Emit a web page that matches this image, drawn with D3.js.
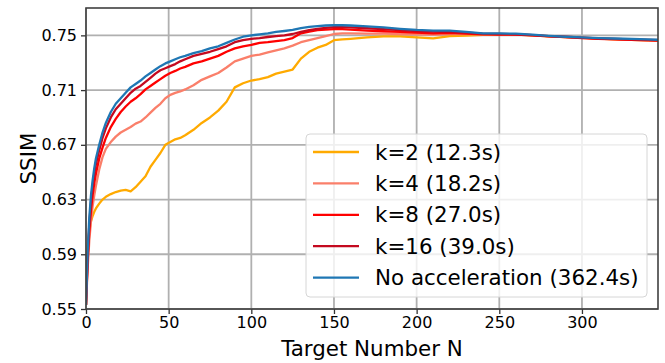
<!DOCTYPE html>
<html>
<head>
<meta charset="utf-8">
<script src="https://cdn.jsdelivr.net/npm/d3@7"></script>
<style>
  body { margin: 0; background: #fff; }
  text { font-family: "DejaVu Sans", sans-serif; fill: #000; }
</style>
</head>
<body>
<div id="chart"></div>
<script>
// sampled target numbers (x) shared by all series
const targetN = [0, 1, 2, 3, 4, 5, 6, 8, 10, 12, 15, 18, 21, 24, 27, 30, 33, 36, 39, 42, 45, 48, 51, 54, 57, 60,
  65, 70, 75, 80, 85, 90, 95, 100, 105, 110, 115, 120, 125, 130, 135, 140, 145, 150, 155, 160, 170, 180, 190, 200,
  210, 220, 230, 240, 250, 260, 270, 280, 290, 300, 310, 320, 330, 340, 346];

const ssimK2 = [0.553, 0.596, 0.607, 0.614, 0.618, 0.621, 0.6235, 0.627, 0.630, 0.632, 0.634, 0.6355, 0.6365, 0.637, 0.636, 0.639,
  0.643, 0.647, 0.654, 0.659, 0.664, 0.670, 0.672, 0.674, 0.675, 0.677, 0.681, 0.686, 0.690, 0.695, 0.7015, 0.712, 0.715, 0.717,
  0.718, 0.7195, 0.722, 0.7235, 0.725, 0.733, 0.738, 0.741, 0.743, 0.7465, 0.747, 0.7475, 0.7485, 0.7493, 0.7492, 0.7485,
  0.7478, 0.7494, 0.7498, 0.7503, 0.7505, 0.7505, 0.750, 0.7493, 0.7487, 0.7481, 0.7476, 0.7471, 0.7467, 0.7464, 0.7462];

const ssimK4 = [0.553, 0.580, 0.600, 0.614, 0.625, 0.633, 0.640, 0.652, 0.661, 0.667, 0.672, 0.676, 0.679, 0.681, 0.683, 0.6855,
  0.687, 0.690, 0.6935, 0.697, 0.700, 0.704, 0.7065, 0.708, 0.709, 0.7105, 0.7135, 0.7175, 0.720, 0.7225, 0.7265, 0.731, 0.733, 0.735,
  0.736, 0.7375, 0.739, 0.7405, 0.7425, 0.745, 0.7465, 0.748, 0.7495, 0.751, 0.7515, 0.7515, 0.7513, 0.7512, 0.751, 0.7508,
  0.7505, 0.751, 0.751, 0.7508, 0.7508, 0.7506, 0.7502, 0.7495, 0.7488, 0.7483, 0.7477, 0.7472, 0.7468, 0.7465, 0.7463];

const ssimK8 = [0.553, 0.585, 0.607, 0.622, 0.633, 0.642, 0.649, 0.660, 0.668, 0.675, 0.683, 0.689, 0.694, 0.698, 0.7015, 0.704,
  0.707, 0.7105, 0.713, 0.7155, 0.718, 0.7205, 0.7225, 0.724, 0.7258, 0.727, 0.7295, 0.731, 0.733, 0.735, 0.738, 0.7405, 0.742, 0.743,
  0.7445, 0.745, 0.7458, 0.7465, 0.748, 0.7515, 0.7528, 0.7538, 0.7542, 0.7545, 0.7545, 0.7542, 0.7535, 0.753, 0.7525, 0.752,
  0.7515, 0.7518, 0.7512, 0.7508, 0.7505, 0.7505, 0.750, 0.7492, 0.7487, 0.748, 0.7475, 0.747, 0.7467, 0.7464, 0.7462];

const ssimK16 = [0.553, 0.588, 0.612, 0.628, 0.640, 0.649, 0.656, 0.666, 0.675, 0.682, 0.690, 0.696, 0.700, 0.704, 0.708, 0.711,
  0.713, 0.716, 0.719, 0.722, 0.7245, 0.726, 0.7275, 0.729, 0.731, 0.7325, 0.735, 0.7365, 0.738, 0.740, 0.742, 0.745, 0.7465, 0.7475,
  0.748, 0.7488, 0.7495, 0.750, 0.751, 0.7525, 0.7538, 0.7548, 0.7555, 0.756, 0.756, 0.7558, 0.7552, 0.7545, 0.7538, 0.7532,
  0.7528, 0.7525, 0.752, 0.7512, 0.751, 0.7508, 0.7502, 0.7495, 0.749, 0.7484, 0.7478, 0.7474, 0.747, 0.7467, 0.7465];

const ssimNoAcc = [0.553, 0.592, 0.617, 0.633, 0.644, 0.653, 0.660, 0.670, 0.679, 0.686, 0.694, 0.700, 0.704, 0.708, 0.712, 0.7145,
  0.717, 0.720, 0.7225, 0.725, 0.7275, 0.7295, 0.731, 0.7325, 0.734, 0.735, 0.737, 0.7385, 0.7405, 0.742, 0.7445, 0.747, 0.749, 0.750,
  0.7508, 0.7515, 0.7525, 0.7532, 0.754, 0.7553, 0.7562, 0.7568, 0.7572, 0.7574, 0.7574, 0.7572, 0.7565, 0.7558, 0.7548, 0.754,
  0.7535, 0.7535, 0.7525, 0.7515, 0.7515, 0.7512, 0.7505, 0.7497, 0.749, 0.7485, 0.748, 0.7477, 0.7474, 0.7471, 0.7468];

const seriesNames = ["k=2 (12.3s)", "k=4 (18.2s)", "k=8 (27.0s)", "k=16 (39.0s)", "No acceleration (362.4s)"];
const seriesValues = [ssimK2, ssimK4, ssimK8, ssimK16, ssimNoAcc];
const seriesColors = ["#ffaa00", "#fa7f6a", "#ff0000", "#c4091f", "#1f77b4"];

const xTicks = [0, 50, 100, 150, 200, 250, 300];
const yTicks = [0.55, 0.59, 0.63, 0.67, 0.71, 0.75];

const W = 665, H = 363;
const margin = { top: 8, right: 7, bottom: 54, left: 86 };
const width = W - margin.left - margin.right;
const height = H - margin.top - margin.bottom;

const svg = d3.select("#chart").append("svg")
    .attr("width", W)
    .attr("height", H);

const g = svg.append("g")
    .attr("transform", "translate(" + margin.left + "," + margin.top + ")");

const x = d3.scaleLinear().domain([0, 346]).range([0, width]);
const y = d3.scaleLinear().domain([0.55, 0.77]).range([height, 0]);

// grid
g.append("g").selectAll("line")
    .data(xTicks).enter().append("line")
    .attr("x1", d => x(d)).attr("x2", d => x(d))
    .attr("y1", 0).attr("y2", height)
    .attr("stroke", "#b0b0b0").attr("stroke-width", 1.8);
g.append("g").selectAll("line")
    .data(yTicks).enter().append("line")
    .attr("x1", 0).attr("x2", width)
    .attr("y1", d => y(d)).attr("y2", d => y(d))
    .attr("stroke", "#b0b0b0").attr("stroke-width", 1.8);

svg.append("defs").append("clipPath").attr("id", "plot-clip")
    .append("rect").attr("width", width).attr("height", height);

const line = d3.line()
    .x((d, i) => x(targetN[i]))
    .y(d => y(d));

g.append("g").attr("clip-path", "url(#plot-clip)")
    .selectAll("path")
    .data(seriesValues).enter().append("path")
    .attr("d", d => line(d))
    .attr("fill", "none")
    .attr("stroke", (d, i) => seriesColors[i])
    .attr("stroke-width", 2.3)
    .attr("stroke-linejoin", "round");

// axes
const xAxis = d3.axisBottom(x).tickValues(xTicks).tickSize(5).tickPadding(3);
const yAxis = d3.axisLeft(y).tickValues(yTicks).tickSize(5).tickPadding(4).tickFormat(d3.format(".2f"));

const gx = g.append("g").attr("transform", "translate(0," + height + ")").call(xAxis);
const gy = g.append("g").call(yAxis);
[gx, gy].forEach(a => {
    a.select(".domain").remove();
    a.selectAll(".tick line").attr("stroke", "#333").attr("stroke-width", 1.3);
    a.selectAll(".tick text").style("font-size", "16px").style("font-family", "DejaVu Sans");
});

// frame
g.append("rect")
    .attr("width", width).attr("height", height)
    .attr("fill", "none").attr("stroke", "#404040").attr("stroke-width", 1.6);

// axis labels
svg.append("text")
    .attr("x", margin.left + width / 2).attr("y", 356)
    .attr("text-anchor", "middle")
    .style("font-size", "21.4px")
    .text("Target Number N");
svg.append("text")
    .attr("transform", "translate(36," + (margin.top + height / 2) + ") rotate(-90)")
    .attr("text-anchor", "middle")
    .style("font-size", "21.4px")
    .text("SSIM");

// legend
const legend = svg.append("g").attr("transform", "translate(306,134)");
legend.append("rect")
    .attr("width", 341).attr("height", 163)
    .attr("rx", 4)
    .attr("fill", "#fff").attr("fill-opacity", 0.8)
    .attr("stroke", "#d6d6d6").attr("stroke-width", 1);

const item = legend.selectAll(".item")
    .data(seriesNames).enter().append("g")
    .attr("transform", (d, i) => "translate(0," + (18 + i * 31.4) + ")");
item.append("line")
    .attr("x1", 7).attr("x2", 53)
    .attr("stroke", (d, i) => seriesColors[i])
    .attr("stroke-width", 2.3);
item.append("text")
    .attr("x", 69).attr("y", 7.5)
    .style("font-size", "21.4px")
    .text(d => d);
</script>
</body>
</html>
